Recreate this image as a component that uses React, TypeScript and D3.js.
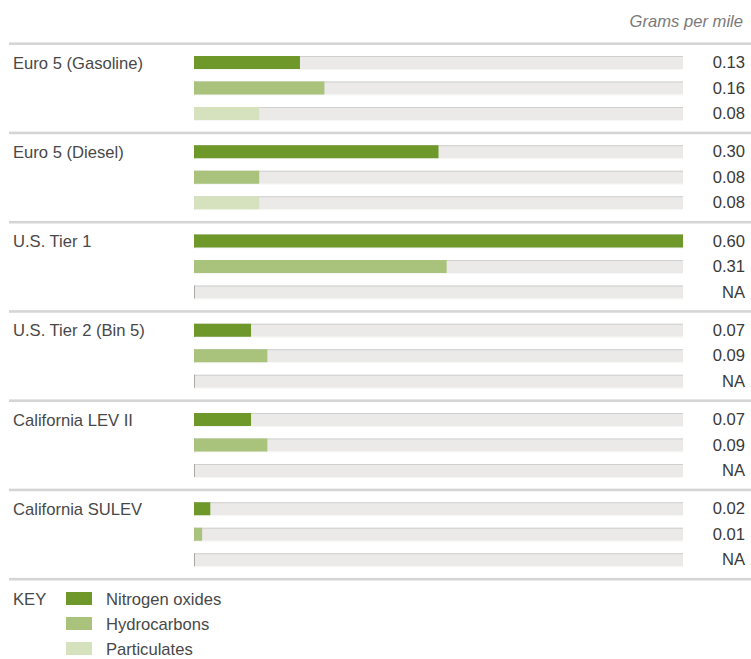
import React from "react";
import * as d3 from "d3";

const standards = [
  "Euro 5 (Gasoline)",
  "Euro 5 (Diesel)",
  "U.S. Tier 1",
  "U.S. Tier 2 (Bin 5)",
  "California LEV II",
  "California SULEV",
];
const pollutants = ["Nitrogen oxides", "Hydrocarbons", "Particulates"];
const nitrogenOxides: (number | null)[] = [0.13, 0.3, 0.6, 0.07, 0.07, 0.02];
const hydrocarbons: (number | null)[] = [0.16, 0.08, 0.31, 0.09, 0.09, 0.01];
const particulates: (number | null)[] = [0.08, 0.08, null, null, null, null];
const unitLabel = "Grams per mile";
const xMax = 0.6;

const colors = ["#6f982b", "#a9c27c", "#d5e2bd"];

const W = 751;
const H = 659;

export default function App() {
  const x = d3.scaleLinear().domain([0, xMax]).range([194, 683]);
  const sepY = d3.scaleLinear().domain([0, 1]).range([43.7, 43.7 + 89.25]);
  const rowY = d3.scaleLinear().domain([0, 1]).range([12.3, 12.3 + 25.5]);
  const series = [nitrogenOxides, hydrocarbons, particulates];
  const font = "'Liberation Sans', Arial, Helvetica, sans-serif";
  const barH = 13;
  const fs = 16.6;

  return (
    <svg
      width={W}
      height={H}
      style={{ position: "absolute", left: 0, top: 0, background: "#fff" }}
      fontFamily={font}
    >
      <text x={743} y={27} textAnchor="end" fontSize={fs} fontStyle="italic" fill="#7a7a7a">
        {unitLabel}
      </text>
      {d3.range(standards.length + 1).map((i) => (
        <rect key={"sep" + i} x={9} y={sepY(i) - 1.3} width={W - 9} height={2.6} fill="#d5d5d5" />
      ))}
      {standards.map((s, gi) => {
        const g0 = sepY(gi);
        return (
          <g key={s}>
            <text x={13} y={g0 + 25} fontSize={fs} fill="#484848">
              {s}
            </text>
            {series.map((vals, si) => {
              const v = vals[gi];
              const top = g0 + rowY(si);
              return (
                <g key={si}>
                  <rect x={x(0)} y={top} width={x(xMax) - x(0)} height={barH} fill="#ebeae8" />
                  <rect x={x(0)} y={top} width={x(xMax) - x(0)} height={1} fill="#d0d0d0" />
                  <rect x={x(0)} y={top + barH} width={x(xMax) - x(0)} height={1} fill="#f6f6f4" />
                  <rect x={x(0)} y={top} width={1} height={barH} fill="#a8a8a8" />
                  {v != null && (
                    <rect x={x(0)} y={top} width={x(v) - x(0)} height={barH} fill={colors[si]} />
                  )}
                  <text x={745} y={top + barH - 1} textAnchor="end" fontSize={fs} fill="#3a3a3a">
                    {v != null ? v.toFixed(2) : "NA"}
                  </text>
                </g>
              );
            })}
          </g>
        );
      })}
      <text x={13} y={605} fontSize={fs} fill="#484848">
        KEY
      </text>
      {pollutants.map((p, i) => (
        <g key={p}>
          <rect x={66} y={592 + i * 25} width={26} height={13} fill={colors[i]} />
          <text x={106} y={605 + i * 25} fontSize={fs} fill="#484848">
            {p}
          </text>
        </g>
      ))}
    </svg>
  );
}
